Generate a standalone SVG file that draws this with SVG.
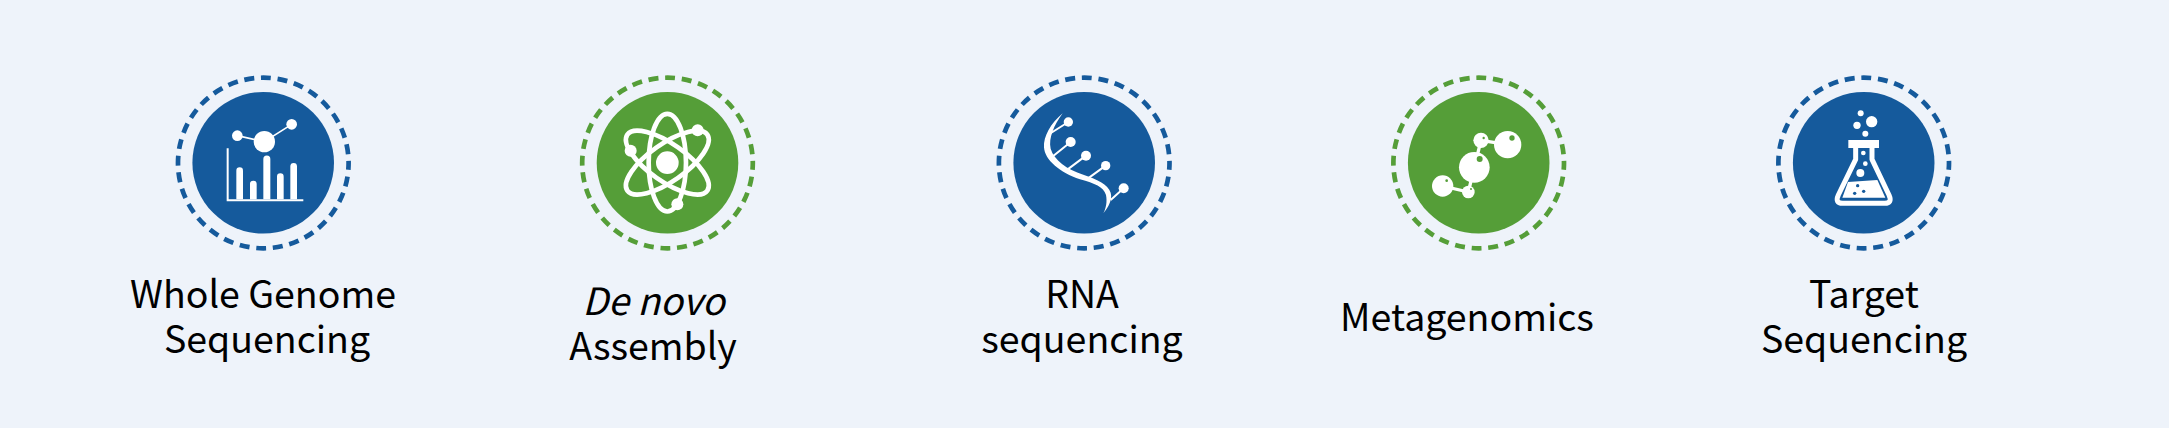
<svg xmlns="http://www.w3.org/2000/svg" width="2169" height="428" viewBox="0 0 2169 428">
<style>
.bg{fill:#eef3fa}
.b{fill:#155a9c}.g{fill:#559e38}
.rb,.rg{fill:none;stroke-width:4.7;stroke-dasharray:10 6.75;stroke-dashoffset:3.1}
.rb{stroke:#155a9c}.rg{stroke:#559e38}
.w{fill:#fff}
.wl{stroke:#fff;fill:none}
text{font-family:"Noto Sans CJK SC","Noto Sans",sans-serif;font-size:37.5px;fill:#000;text-anchor:middle;font-weight:400}
</style>
<rect class="bg" width="2169" height="428"/>
<g id="connectors"/>
<g id="wgs">
<circle class="b" cx="263.2" cy="162.8" r="70.8"/>
<circle class="rb" cx="263.3" cy="163" r="85.3"/>
<g transform="translate(160,60) scale(.33333)">
<path class="wl" stroke-width="6" d="M203 265V421H430"/>
<path class="w" d="M229 418V332a10 10 0 0 1 20 0V418zM270 418V372a10 10 0 0 1 20 0V418zM310 418V297a10 10 0 0 1 21 0V418zM351 418V350a10 10 0 0 1 20 0V418zM391 418V319a10 10 0 0 1 20 0V418z"/>
<path class="wl" stroke-width="5" d="M232 227L313 245L395 193"/>
<circle class="w" cx="232" cy="227" r="16"/><circle class="w" cx="313" cy="245" r="32"/><circle class="w" cx="395" cy="193" r="16"/>
</g>
<text x="263" y="308">Whole Genome</text>
<text x="267" y="353">Sequencing</text>
</g>
<g id="denovo">
<circle class="g" cx="667.5" cy="162.8" r="70.8"/>
<circle class="rg" cx="667.5" cy="163" r="85.3"/>
<g transform="translate(560,60) scale(.33333)">
<circle class="w" cx="322" cy="308" r="34"/>
<g class="wl" stroke-width="14">
<ellipse cx="322" cy="308" rx="56" ry="146.5"/>
<ellipse cx="322" cy="308" rx="56" ry="146.5" transform="rotate(55 322 308)"/>
<ellipse cx="322" cy="308" rx="56" ry="146.5" transform="rotate(-55 322 308)"/>
</g>
<circle class="w" cx="413" cy="211" r="18"/><circle class="w" cx="212" cy="272" r="18"/><circle class="w" cx="352" cy="433" r="18"/>
</g>
<text x="653.5" y="315" font-style="italic">De novo</text>
<text x="653" y="360">Assembly</text>
</g>
<g id="rna">
<circle class="b" cx="1084.2" cy="162.8" r="70.8"/>
<circle class="rb" cx="1084.2" cy="163" r="85.3"/>
<g transform="translate(980,60) scale(.33333)">
<path class="w" d="M248 160C212 190 190 230 192 262C194 300 240 338 300 358C345 371 370 380 378 405C382 425 378 445 370 460C385 440 398 420 392 398C384 372 350 358 310 344C260 328 222 300 212 266C205 235 222 195 248 160z"/>
<path class="wl" stroke-width="6" d="M265 186L208 222M272 246L215 292M318 287L258 332M377 317L320 358M431 385L392 420"/>
<circle class="w" cx="265" cy="186" r="14"/><circle class="w" cx="272" cy="246" r="15"/><circle class="w" cx="318" cy="287" r="15"/><circle class="w" cx="377" cy="317" r="14"/><circle class="w" cx="431" cy="385" r="15"/>
</g>
<text x="1082" y="308">RNA</text>
<text x="1082" y="353">sequencing</text>
</g>
<g id="meta">
<circle class="g" cx="1478.7" cy="162.8" r="70.8"/>
<circle class="rg" cx="1478.7" cy="163" r="85.3"/>
<g transform="translate(1370,60) scale(.33333)">
<path class="wl" stroke-width="10" d="M218 378L295 396L313 322L333 241L413 254"/>
<circle class="w" cx="218" cy="378" r="32"/><circle class="w" cx="295" cy="396" r="19"/><circle class="w" cx="313" cy="322" r="46"/><circle class="w" cx="333" cy="241" r="23"/><circle class="w" cx="413" cy="254" r="41"/>
<circle class="g" cx="230" cy="362" r="4"/><circle class="g" cx="303" cy="387" r="3"/><circle class="g" cx="329" cy="297" r="9"/><circle class="g" cx="341" cy="234" r="3.5"/><circle class="g" cx="426" cy="234" r="8"/>
</g>
<text x="1467" y="331">Metagenomics</text>
</g>
<g id="target">
<circle class="b" cx="1863.7" cy="162.8" r="70.8"/>
<circle class="rb" cx="1863.7" cy="163" r="85.3"/>
<g transform="translate(1760,60) scale(.33333)">
<rect class="w" x="265" y="240" width="92" height="24"/>
<path class="wl" stroke-width="15" stroke-linejoin="round" d="M287 262V298L235 405Q224 430 248 430H374Q398 430 387 405L336 298V262"/>
<path class="w" d="M264 366L352 360L376 413H247z"/>
<circle class="w" cx="310" cy="279" r="7"/><circle class="w" cx="316" cy="311" r="7"/><circle class="w" cx="301" cy="339" r="12"/>
<circle class="b" cx="293" cy="377" r="5"/><circle class="b" cx="311" cy="394" r="5"/><circle class="b" cx="284" cy="400" r="5"/>
<circle class="w" cx="302" cy="160" r="9"/><circle class="w" cx="335" cy="185" r="17"/><circle class="w" cx="291" cy="196" r="11"/><circle class="w" cx="316" cy="221" r="9"/>
</g>
<text x="1864" y="308">Target</text>
<text x="1864" y="353">Sequencing</text>
</g>
</svg>
